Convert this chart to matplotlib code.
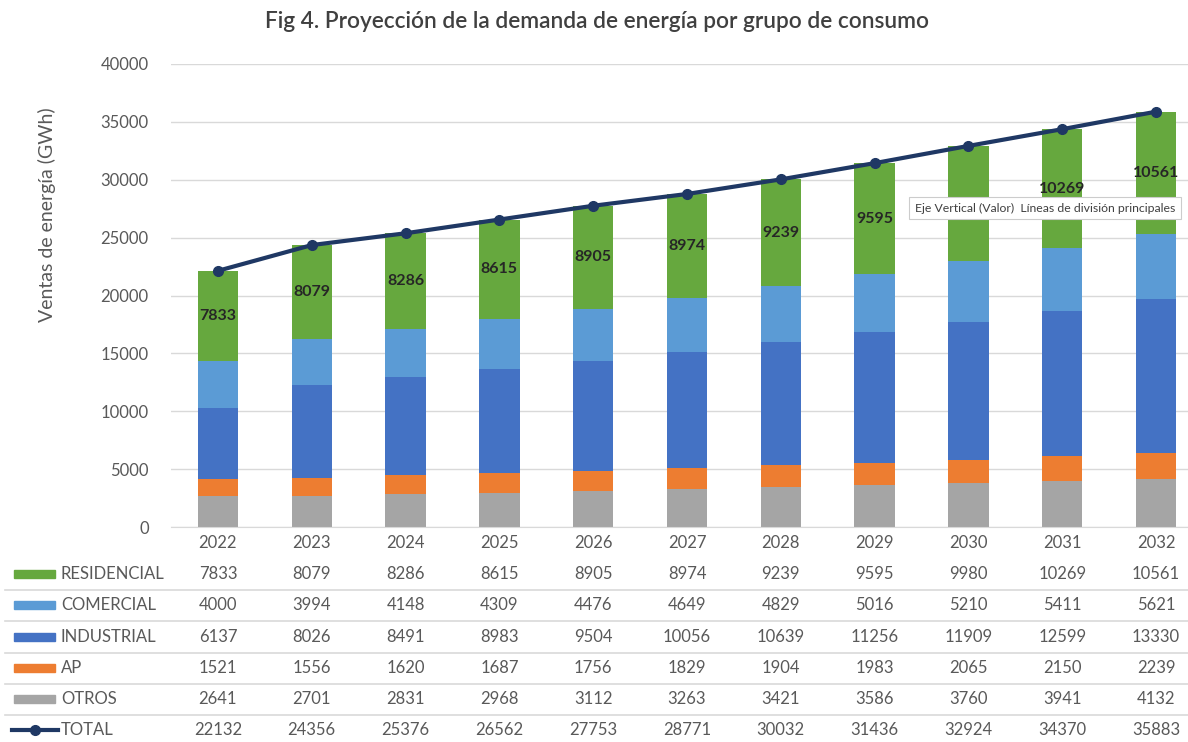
import matplotlib.pyplot as plt
from matplotlib.transforms import blended_transform_factory
from matplotlib.lines import Line2D
from matplotlib.patches import Rectangle
import numpy as np

plt.rcParams['font.family'] = ['Lato', 'DejaVu Sans']

years = ['2022', '2023', '2024', '2025', '2026', '2027', '2028', '2029', '2030', '2031', '2032']
residencial = [7833, 8079, 8286, 8615, 8905, 8974, 9239, 9595, 9980, 10269, 10561]
comercial = [4000, 3994, 4148, 4309, 4476, 4649, 4829, 5016, 5210, 5411, 5621]
industrial = [6137, 8026, 8491, 8983, 9504, 10056, 10639, 11256, 11909, 12599, 13330]
ap = [1521, 1556, 1620, 1687, 1756, 1829, 1904, 1983, 2065, 2150, 2239]
otros = [2641, 2701, 2831, 2968, 3112, 3263, 3421, 3586, 3760, 3941, 4132]
total = [22132, 24356, 25376, 26562, 27753, 28771, 30032, 31436, 32924, 34370, 35883]

TEXT = '#595959'
C_RES = '#66a83e'
C_COM = '#5b9bd5'
C_IND = '#4472c4'
C_AP = '#ed7d31'
C_OTR = '#a5a5a5'
C_TOT = '#1f3864'

fig = plt.figure(figsize=(11.88, 7.42), dpi=100)
fig.set_facecolor('white')
ax = fig.add_axes([171 / 1188, 1 - 527 / 742, 1 - 171 / 1188, (527 - 64) / 742])

x = np.arange(len(years))
w = 0.43
# apilado desde abajo: otros, AP, industrial, comercial, residencial
series = [(otros, C_OTR), (ap, C_AP), (industrial, C_IND), (comercial, C_COM), (residencial, C_RES)]
bottom = np.zeros(len(years))
for vals, col in series:
    ax.bar(x, vals, w, bottom=bottom, color=col, zorder=2)
    bottom += np.array(vals)

# etiquetas de residencial
res_bottom = bottom - np.array(residencial)
for i, v in enumerate(residencial):
    ax.text(x[i], res_bottom[i] + v / 2, str(v), ha='center', va='center',
            fontsize=11.5, fontweight='bold', color='#262626', zorder=4)

ax.plot(x, total, color=C_TOT, lw=3, marker='o', ms=7, zorder=3)

ax.set_xlim(-0.5, 10.34)
ax.set_ylim(0, 40000)
ax.set_yticks(np.arange(0, 40001, 5000))
ax.tick_params(axis='y', length=0, labelsize=12, labelcolor=TEXT, pad=16)
ax.set_xticks([])
ax.grid(axis='y', color='#d9d9d9', lw=1, zorder=0)
for s in ['top', 'right', 'left']:
    ax.spines[s].set_visible(False)
ax.spines['bottom'].set_color('#d9d9d9')

fig.text(47 / 1188, 1 - 215 / 742, 'Ventas de energía (GWh)', rotation=90,
         ha='center', va='center', fontsize=14, color=TEXT)
fig.text(597 / 1188, 1 - 22 / 742, 'Fig 4. Proyección de la demanda de energía por grupo de consumo',
         ha='center', va='center', fontsize=16.3, fontweight='semibold', color='#404040')

# tabla de datos
tr = blended_transform_factory(ax.transData, fig.transFigure)
row_y = [543, 574, 605, 637, 668, 699, 730]
for i, yr in enumerate(years):
    fig.text(x[i], 1 - row_y[0] / 742, yr, transform=tr, ha='center', va='center',
             fontsize=12, color=TEXT)

rows = [('RESIDENCIAL', residencial, C_RES), ('COMERCIAL', comercial, C_COM),
        ('INDUSTRIAL', industrial, C_IND), ('AP', ap, C_AP), ('OTROS', otros, C_OTR),
        ('TOTAL', total, C_TOT)]
for r, (name, vals, col) in enumerate(rows):
    yy = 1 - row_y[r + 1] / 742
    for i, v in enumerate(vals):
        fig.text(x[i], yy, str(v), transform=tr, ha='center', va='center',
                 fontsize=12, color=TEXT)
    fig.text(61 / 1188, yy, name, ha='left', va='center', fontsize=12, color=TEXT)
    if name == 'TOTAL':
        fig.add_artist(Line2D([12 / 1188, 58 / 1188], [yy, yy], color=col, lw=3,
                              transform=fig.transFigure))
        fig.add_artist(Line2D([35 / 1188], [yy], color=col, marker='o', ms=7,
                              transform=fig.transFigure))
    else:
        fig.add_artist(Rectangle((14 / 1188, yy - 4 / 742), 41 / 1188, 8 / 742,
                                 color=col, transform=fig.transFigure))
    if r < len(rows) - 1:
        ys = 1 - (row_y[r + 1] + row_y[r + 2]) / 2 / 742
        fig.add_artist(Line2D([5 / 1188, 1], [ys, ys], color='#d9d9d9', lw=1.2,
                              transform=fig.transFigure))

# tooltip capturado en la imagen (tapa la etiqueta de 2030 como en el original)
fig.text(1045 / 1188, 1 - 208 / 742,
         'Eje Vertical (Valor)  Líneas de división principales',
         ha='center', va='center', fontsize=8.8, color='#404040', zorder=10,
         bbox=dict(boxstyle='square,pad=0.45', fc='white', ec='#cccccc', lw=0.8))

fig.savefig('out.png', dpi=100, facecolor='white')
